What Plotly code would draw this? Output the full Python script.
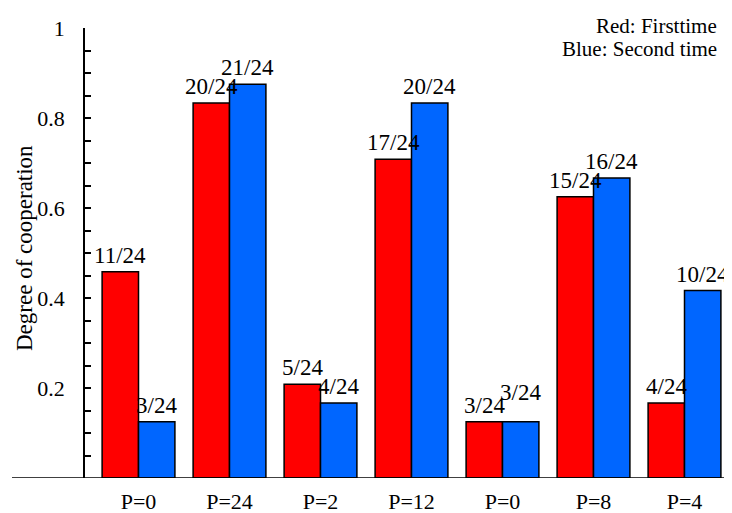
import plotly.graph_objects as go

# ---- data ----
categories = ["P=0", "P=24", "P=2", "P=12", "P=0", "P=8", "P=4"]
red_counts = [11, 20, 5, 17, 3, 15, 4]      # first time (out of 24)
blue_counts = [3, 21, 4, 20, 3, 16, 10]     # second time (out of 24)
total = 24
y_tick_vals = [0.2, 0.4, 0.6, 0.8, 1.0]
y_tick_text = ["0.2", "0.4", "0.6", "0.8", "1"]
legend_lines = ["Red: Firsttime", "Blue: Second time"]
y_title = "Degree of cooperation"

positions = list(range(len(categories)))
red_vals = [c / total for c in red_counts]
blue_vals = [c / total for c in blue_counts]

FONT = "Liberation Serif"
RED = "#ff0000"
BLUE = "#0066ff"

# the page body has an 8px default margin; compensate so the plot sits where the reference has it
PAGE_OFF = 8
PLOT_L, PLOT_R, PLOT_T, PLOT_B = 85, 730, 28, 478
W = 732 - PAGE_OFF
H = 513 - PAGE_OFF
PW = PLOT_R - PLOT_L
PH = PLOT_B - PLOT_T

fig = go.Figure()
fig.add_bar(x=positions, y=red_vals, name="First time",
            marker=dict(color=RED, line=dict(color="black", width=1.5)))
fig.add_bar(x=positions, y=blue_vals, name="Second time",
            marker=dict(color=BLUE, line=dict(color="black", width=1.5)))

# value labels above bars
offset = 0.2
for i, (rc, bc) in enumerate(zip(red_counts, blue_counts)):
    fig.add_annotation(x=positions[i] - offset, y=rc / total, text=f"{rc}/{total}",
                       showarrow=False, yanchor="bottom", yshift=2,
                       font=dict(family=FONT, size=23, color="black"))
    extra = 13 if rc == bc else 0
    fig.add_annotation(x=positions[i] + offset, y=bc / total, text=f"{bc}/{total}",
                       showarrow=False, yanchor="bottom", yshift=2 + extra,
                       font=dict(family=FONT, size=23, color="black"))

# legend-like text at top right
for k, line in enumerate(legend_lines):
    fig.add_annotation(xref="paper", yref="paper", x=(719 - PLOT_L) / PW,
                       y=1 + (PLOT_T - 26 - 23 * k) / PH,
                       xanchor="right", yanchor="middle", align="right",
                       text=line, showarrow=False,
                       font=dict(family=FONT, size=21, color="black"))

# y-axis title
fig.add_annotation(xref="paper", yref="paper", x=(24 - PLOT_L) / PW,
                   y=(PLOT_B - 248) / PH, textangle=-90,
                   xanchor="center", yanchor="middle", text=y_title,
                   showarrow=False, font=dict(family=FONT, size=23, color="black"))

# x baseline extending left of the y axis
fig.add_shape(type="line", xref="paper", yref="y", x0=(12 - PLOT_L) / PW, x1=1.0,
              y0=0, y1=0, line=dict(color="black", width=1.5))

fig.update_layout(
    width=W, height=H,
    margin=dict(l=PLOT_L - PAGE_OFF, r=732 - PLOT_R, t=PLOT_T - PAGE_OFF, b=513 - PLOT_B),
    paper_bgcolor="white", plot_bgcolor="white",
    barmode="group", bargap=0.2, bargroupgap=0.0,
    showlegend=False,
    font=dict(family=FONT, size=22, color="black"),
)
fig.update_xaxes(range=[-0.588, 6.5], tickvals=positions, ticktext=categories,
                 showline=False, showgrid=False, zeroline=False, ticks="",
                 automargin=False, ticklabelstandoff=8,
                 tickfont=dict(family=FONT, size=22))
fig.update_yaxes(range=[0, 1], tickvals=y_tick_vals, ticktext=y_tick_text,
                 showline=True, linecolor="black", linewidth=1.5,
                 showgrid=False, zeroline=False, automargin=False,
                 ticks="inside", ticklen=6, tickwidth=1.5, tickcolor="black",
                 minor=dict(ticks="inside", dtick=0.05, ticklen=6, tickwidth=1.5,
                            tickcolor="black", showgrid=False),
                 ticklabelstandoff=14,
                 tickfont=dict(family=FONT, size=22))

fig.write_html("out.html")
